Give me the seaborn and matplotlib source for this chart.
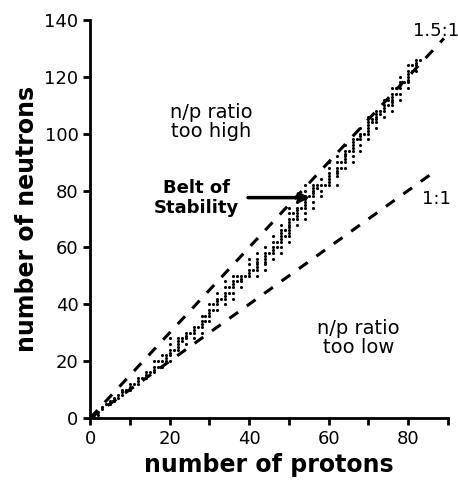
import matplotlib
matplotlib.use("Agg")
import matplotlib.pyplot as plt
import pandas as pd
import seaborn as sns
from matplotlib.ticker import MultipleLocator

# neutron counts of the stable nuclides, one list per proton number (index = Z)
stable_neutrons = [
    [],
    [0, 1], [1, 2], [3, 4], [5], [5, 6], [6, 7], [7, 8], [8, 9, 10], [10],
    [10, 11, 12], [12], [12, 13, 14], [14], [14, 15, 16], [16],
    [16, 17, 18, 20], [18, 20], [18, 20, 22], [20, 21, 22],
    [20, 22, 23, 24, 26, 28], [24], [24, 25, 26, 27, 28], [27, 28],
    [26, 28, 29, 30], [30], [28, 30, 31, 32], [32], [30, 32, 33, 34, 36],
    [34, 36], [34, 36, 37, 38, 40], [38, 40], [38, 40, 41, 42, 44], [42],
    [40, 42, 43, 44, 46, 48], [44, 46], [42, 44, 46, 47, 48, 50], [48, 50],
    [46, 48, 49, 50], [50], [50, 51, 52, 54, 56], [52],
    [50, 52, 53, 54, 55, 56, 58], [], [52, 54, 55, 56, 57, 58, 60], [58],
    [56, 58, 59, 60, 62, 64], [60, 62], [58, 60, 62, 63, 64, 65, 66, 68],
    [64, 66], [62, 64, 65, 66, 67, 68, 69, 70, 72, 74], [70, 72],
    [68, 70, 71, 72, 73, 74, 76, 78], [74], [70, 72, 74, 75, 76, 77, 78, 80, 82],
    [78], [74, 76, 78, 79, 80, 81, 82], [81, 82], [78, 80, 82, 84], [82],
    [82, 83, 84, 85, 86, 88, 90], [], [82, 85, 86, 87, 88, 90, 92], [88, 90],
    [88, 90, 91, 92, 93, 94, 96], [94], [90, 92, 94, 95, 96, 97, 98], [98],
    [94, 96, 98, 99, 100, 102], [100], [98, 100, 101, 102, 103, 104, 106],
    [104, 105], [102, 104, 105, 106, 107, 108], [107, 108],
    [106, 108, 109, 110, 112], [110, 112], [108, 110, 111, 112, 113, 114, 116],
    [114, 116], [112, 114, 116, 117, 118, 120], [118],
    [116, 118, 119, 120, 121, 122, 124], [122, 124], [122, 124, 125, 126], [126],
]

# guide lines n = ratio * p
ratio_names = ["1:1", "1.5:1"]
ratio_values = [1.0, 1.5]
ratio_x_end = [86, 89]

x_ticks = [0, 20, 40, 60, 80]
y_ticks = [0, 20, 40, 60, 80, 100, 120, 140]

protons, neutrons = [], []
for z, ns in enumerate(stable_neutrons):
    for n in ns:
        protons.append(z)
        neutrons.append(n)
belt = pd.DataFrame({"protons": protons, "neutrons": neutrons})

sns.set_style("ticks")
plt.rcParams["font.family"] = ["DejaVu Sans"]
plt.rcParams["text.color"] = "black"
plt.rcParams["axes.labelcolor"] = "black"
plt.rcParams["xtick.color"] = "black"
plt.rcParams["ytick.color"] = "black"

fig = plt.figure(figsize=(4.58, 4.86), dpi=100)
ax = fig.add_axes([0.197, 0.140, 0.781, 0.819])

for name, r, xe in zip(ratio_names, ratio_values, ratio_x_end):
    sns.lineplot(x=[0, xe], y=[0, r * xe], ax=ax, color="black", lw=2.2,
                 linestyle=(0, (3.5, 3.5)))

sns.scatterplot(data=belt, x="protons", y="neutrons", ax=ax, color="black",
                marker="o", s=5, linewidth=0)

ax.set_xlim(0, 90)
ax.set_ylim(0, 140)
ax.set_xticks(x_ticks)
ax.set_yticks(y_ticks)
ax.xaxis.set_minor_locator(MultipleLocator(10))
ax.tick_params(axis="both", which="both", direction="out", length=5, width=2,
               labelsize=13)
sns.despine(ax=ax)
for side in ["left", "bottom"]:
    ax.spines[side].set_linewidth(2)
    ax.spines[side].set_color("black")

ax.set_xlabel("number of protons", fontsize=17, fontweight="bold", labelpad=4)
ax.set_ylabel("number of neutrons", fontsize=17, fontweight="bold", labelpad=4)

ax.text(87, 133, "1.5:1", fontsize=13, ha="center", va="bottom")
ax.text(87, 77, "1:1", fontsize=13, ha="center", va="center")
ax.text(30.5, 104, "n/p ratio\ntoo high", fontsize=14, ha="center", va="center",
        linespacing=1.0)
ax.text(67.5, 28, "n/p ratio\ntoo low", fontsize=14, ha="center", va="center",
        linespacing=1.0)
ax.text(26.7, 77.5, "Belt of\nStability", fontsize=13, fontweight="bold",
        ha="center", va="center", linespacing=1.15)
ax.annotate("", xy=(56, 77.5), xytext=(39, 77.5), zorder=5,
            arrowprops=dict(arrowstyle="-|>", color="black", lw=2.5,
                            mutation_scale=14))

fig.savefig("out.png", dpi=100)
